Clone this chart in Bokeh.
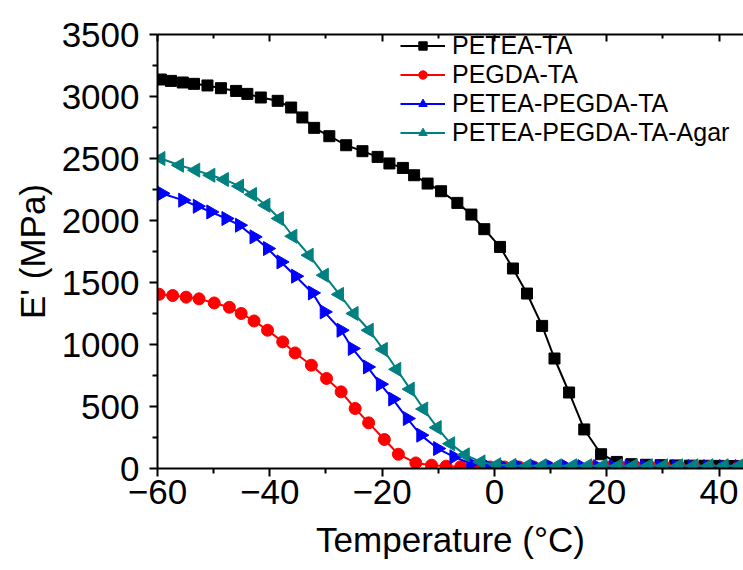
import math
from bokeh.plotting import figure
from bokeh.models import LinearAxis, Legend, LegendItem, FixedTicker, Range1d, CustomLabelingPolicy
from bokeh.embed import file_html
from bokeh.resources import INLINE

# ---- data ----
T_petea = [-59.4, -57.6, -55.5, -53.5, -51.1, -48.7, -46.0, -44.0, -41.6, -38.6, -36.2, -34.2, -32.1, -29.4,
           -26.4, -23.5, -20.8, -18.7, -16.3, -14.3, -11.9, -9.5, -6.6, -4.1, -1.8, 1.0, 3.3, 5.8, 8.5, 10.7,
           13.3, 16.0, 19.0, 21.8, 24.4, 27.0, 29.6, 32.2, 34.8, 37.4, 40.0, 42.6, 45.2]
E_petea = [3137, 3126, 3113, 3102, 3089, 3067, 3045, 3021, 2992, 2965, 2911, 2831, 2747, 2680,
           2607, 2559, 2513, 2460, 2424, 2365, 2298, 2236, 2142, 2048, 1930, 1787, 1613, 1411, 1150, 887,
           613, 315, 115, 53, 35, 30, 27, 25, 23, 22, 21, 20, 20]

T_pegda = [-59.7, -57.3, -54.9, -52.6, -49.9, -47.2, -45.1, -42.8, -40.4, -37.7, -35.5, -32.6, -29.9, -27.3,
           -24.8, -22.4, -19.6, -17.1, -14.0, -11.2, -8.6, -6.0, -3.4, -0.8, 1.8, 4.4, 7.0, 9.6, 12.2, 14.8,
           17.4, 20.0, 22.6, 25.2, 27.8, 30.4, 33.0, 35.6, 38.2, 40.8, 43.4]
E_pegda = [1405, 1395, 1382, 1368, 1335, 1300, 1250, 1190, 1115, 1021, 932, 833, 726, 618,
           484, 368, 234, 115, 45, 27, 19, 15, 13, 12, 12, 12, 12, 12, 12, 12,
           12, 12, 12, 12, 12, 12, 12, 12, 12, 12, 12]

T_blend = [-59.2, -55.5, -52.9, -50.5, -47.8, -45.4, -42.8, -40.4, -38.0, -35.4, -32.4, -30.3, -27.3, -25.3,
           -22.6, -20.3, -18.1, -15.5, -13.1, -10.1, -7.2, -4.2, -1.2, 1.6, 4.4, 7.2, 10.0, 12.8, 15.6, 18.4,
           21.2, 24.0, 26.8, 29.6, 32.4, 35.2, 38.0, 40.8, 43.6]
E_blend = [2218, 2164, 2115, 2069, 2016, 1962, 1868, 1774, 1666, 1551, 1416, 1263, 1115, 968,
           819, 680, 560, 403, 269, 161, 94, 40, 20, 16, 15, 15, 15, 15, 15, 15,
           15, 15, 15, 15, 15, 15, 15, 15, 15]

T_agar = [-59.4, -56.1, -53.2, -50.5, -48.1, -45.4, -43.1, -40.7, -38.3, -35.9, -33.0, -30.3, -27.6, -25.0,
          -22.3, -19.8, -17.4, -15.0, -12.6, -10.2, -7.8, -5.2, -2.4, 0.4, 3.1, 5.8, 8.5, 11.2, 13.9, 16.6,
          19.3, 22.0, 24.7, 27.4, 30.1, 32.8, 35.5, 38.2, 40.9, 43.6]
E_agar = [2500, 2446, 2406, 2365, 2331, 2277, 2210, 2123, 2016, 1873, 1720, 1559, 1404, 1250,
          1115, 960, 800, 640, 480, 330, 200, 110, 53, 30, 25, 22, 22, 22, 22, 22,
          22, 22, 22, 22, 22, 22, 22, 22, 22, 22]

series_names = ["PETEA-TA", "PEGDA-TA", "PETEA-PEGDA-TA", "PETEA-PEGDA-TA-Agar"]
x_major = [-60, -40, -20, 0, 20, 40]
x_minor = [-50, -30, -10, 10, 30]
y_major = [0, 500, 1000, 1500, 2000, 2500, 3000, 3500]
y_minor = [250, 750, 1250, 1750, 2250, 2750, 3250]

FONT = "Liberation Sans"

p = figure(width=743, height=570, x_range=Range1d(-60, 44.36), y_range=Range1d(0, 3500),
           output_backend="svg", toolbar_location=None,
           min_border_left=157, min_border_top=34, min_border_right=0, min_border_bottom=102)
p.outline_line_color = None
p.xgrid.visible = False
p.ygrid.visible = False
p.background_fill_color = "white"
p.border_fill_color = "white"

def style_axis(ax):
    ax.axis_line_width = 2
    ax.axis_line_color = "black"
    ax.major_tick_line_width = 2
    ax.minor_tick_line_width = 2
    ax.major_tick_out = 8
    ax.major_tick_in = 0
    ax.minor_tick_out = 5
    ax.minor_tick_in = 0
    ax.major_label_text_font = FONT
    ax.major_label_text_font_size = "35px"
    ax.major_label_text_color = "black"
    ax.axis_label_text_font = FONT
    ax.axis_label_text_font_size = "35px"
    ax.axis_label_text_font_style = "normal"
    ax.axis_label_text_color = "black"

p.xaxis.ticker = FixedTicker(ticks=x_major, minor_ticks=x_minor)
p.yaxis.ticker = FixedTicker(ticks=y_major, minor_ticks=y_minor)
style_axis(p.xaxis[0])
style_axis(p.yaxis[0])
p.xaxis.axis_label = "Temperature (°C)"
p.yaxis.axis_label = "E' (MPa)"
p.xaxis.major_label_standoff = 3
p.xaxis.axis_label_standoff = 13
p.yaxis.major_label_standoff = 10
p.yaxis.axis_label_standoff = 7

top = LinearAxis(ticker=FixedTicker(ticks=x_major, minor_ticks=x_minor))
style_axis(top)
top.major_tick_out = 0
top.major_tick_in = 7
top.minor_tick_out = 0
top.minor_tick_in = 4
top.major_label_standoff = 0
top.major_label_policy = CustomLabelingPolicy(code="""
for (const i of indices)
  indices.unset(i)
""")
p.add_layout(top, "above")

colors = ["black", "#FF0000", "#0000FF", "#008080"]
xs = [T_petea, T_pegda, T_blend, T_agar]
ys = [E_petea, E_pegda, E_blend, E_agar]
markers = ["square", "circle", "triangle", "triangle"]
angles = [0, 0, -math.pi / 2, math.pi / 2]
sizes = [11, 12, 14, 14]

items = []
for name, c, x, y, m, a, s in zip(series_names, colors, xs, ys, markers, angles, sizes):
    ln = p.line(x, y, line_color=c, line_width=2)
    sc = p.scatter(x, y, marker=m, angle=a, size=s, fill_color=c, line_color=c)
    items.append(LegendItem(label=name, renderers=[ln, sc]))

legend = Legend(items=items, location=(243, 321), padding=0, margin=0, spacing=0,
                glyph_width=45, glyph_height=21, label_height=21, label_standoff=7,
                label_text_font=FONT, label_text_font_size="25px", label_text_color="black",
                border_line_color=None, background_fill_alpha=0)
p.add_layout(legend)

open("out.html", "w").write(file_html(p, INLINE))
